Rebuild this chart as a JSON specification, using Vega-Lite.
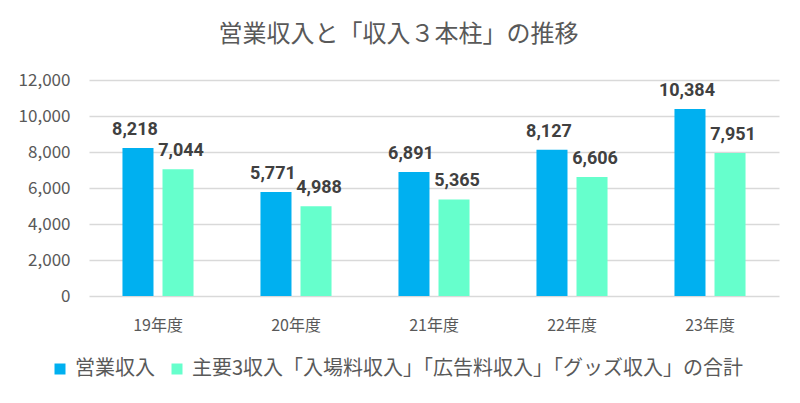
{
  "$schema": "https://vega.github.io/schema/vega-lite/v6.json",
  "width": 690,
  "height": 216,
  "autosize": {"type": "none"},
  "padding": {"left": 89, "top": 80, "right": 21, "bottom": 107},
  "background": "white",
  "title": {
    "text": "営業収入と「収入３本柱」の推移",
    "font": "Noto Sans CJK JP",
    "fontSize": 24,
    "fontWeight": "normal",
    "color": "#595959",
    "offset": 24,
    "anchor": "middle",
    "frame": "bounds"
  },
  "data": {
    "values": [
      {"year": "19年度", "series": "営業収入", "value": 8218},
      {"year": "19年度", "series": "主要3収入「入場料収入」「広告料収入」「グッズ収入」の合計", "value": 7044},
      {"year": "20年度", "series": "営業収入", "value": 5771},
      {"year": "20年度", "series": "主要3収入「入場料収入」「広告料収入」「グッズ収入」の合計", "value": 4988},
      {"year": "21年度", "series": "営業収入", "value": 6891},
      {"year": "21年度", "series": "主要3収入「入場料収入」「広告料収入」「グッズ収入」の合計", "value": 5365},
      {"year": "22年度", "series": "営業収入", "value": 8127},
      {"year": "22年度", "series": "主要3収入「入場料収入」「広告料収入」「グッズ収入」の合計", "value": 6606},
      {"year": "23年度", "series": "営業収入", "value": 10384},
      {"year": "23年度", "series": "主要3収入「入場料収入」「広告料収入」「グッズ収入」の合計", "value": 7951}
    ]
  },
  "encoding": {
    "x": {
      "field": "year", "type": "nominal", "sort": null,
      "scale": {"paddingInner": 0.485, "paddingOuter": 0.2425},
      "axis": {"title": null, "labelAngle": 0, "domain": false, "ticks": false, "labelPadding": 21, "labelFontSize": 16, "labelColor": "#595959", "labelFont": "Noto Sans CJK JP"}
    },
    "xOffset": {
      "field": "series", "type": "nominal", "sort": null,
      "scale": {"paddingInner": 0.225, "paddingOuter": 0}
    },
    "y": {
      "field": "value", "type": "quantitative",
      "scale": {"domain": [0, 12000]},
      "axis": {"title": null, "values": [0, 2000, 4000, 6000, 8000, 10000, 12000], "labelOverlap": false, "format": ",d", "domain": false, "ticks": false, "labelPadding": 19, "labelFontSize": 17, "labelColor": "#595959", "labelFont": "Noto Sans CJK JP", "gridColor": "#d9d9d9", "gridWidth": 1.3}
    }
  },
  "layer": [
    {
      "mark": {"type": "bar"},
      "encoding": {
        "color": {
          "field": "series", "type": "nominal", "sort": null,
          "scale": {"range": ["#00B0F0", "#66FFCC"]},
          "legend": {"title": null, "orient": "none", "legendX": -39, "legendY": 279, "direction": "horizontal", "symbolType": "square", "symbolSize": 121, "symbolStrokeWidth": 0, "labelFontSize": 20, "labelColor": "#595959", "labelFont": "Noto Sans CJK JP", "labelLimit": 800, "columnPadding": 12, "labelOffset": 5}
        }
      }
    },
    {
      "transform": [{"filter": "datum.series === '営業収入'"}],
      "mark": {"type": "text", "dy": -13, "dx": -3, "baseline": "alphabetic", "font": "Roboto", "fontSize": 18, "fontWeight": "bold", "color": "#404040"},
      "encoding": {
        "text": {"field": "value", "type": "quantitative", "format": ",d"}
      }
    },
    {
      "transform": [{"filter": "datum.series !== '営業収入'"}],
      "mark": {"type": "text", "dy": -13, "dx": 3, "baseline": "alphabetic", "font": "Roboto", "fontSize": 18, "fontWeight": "bold", "color": "#404040"},
      "encoding": {
        "text": {"field": "value", "type": "quantitative", "format": ",d"}
      }
    }
  ],
  "config": {"view": {"stroke": null}}
}
